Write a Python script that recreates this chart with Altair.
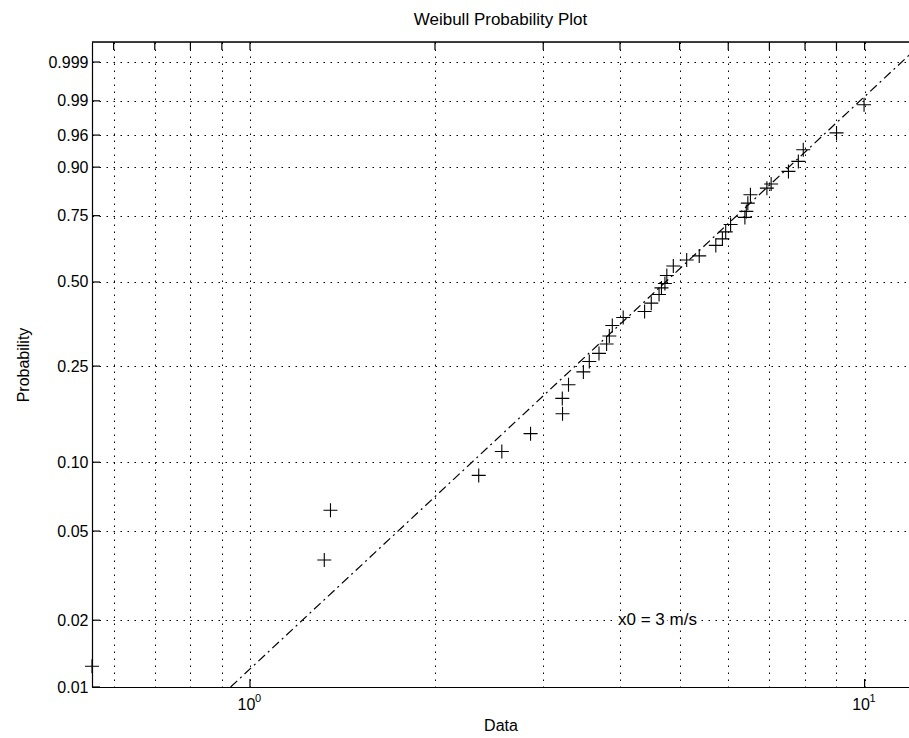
import math
import altair as alt
import pandas as pd

# ---------------- data ----------------
title_text = "Weibull Probability Plot"
x_title = "Data"
y_title = "Probability"
note_text = "x0 = 3 m/s"

data_x = [0.5533, 1.321, 1.352, 2.356, 2.569, 2.861, 3.225, 3.222, 3.298, 3.487,
          3.565, 3.697, 3.804, 3.843, 3.886, 4.048, 4.386, 4.497, 4.630, 4.672,
          4.733, 4.767, 4.884, 5.135, 5.382, 5.727, 5.870, 5.943, 6.053, 6.386,
          6.420, 6.457, 6.520, 6.935, 7.046, 7.518, 7.802, 7.947, 9.002, 9.98]
data_p = [0.0124, 0.0372, 0.0618, 0.0877, 0.1112, 0.1324, 0.1603, 0.1856, 0.2109, 0.2372,
          0.2607, 0.2800, 0.3042, 0.3258, 0.3558, 0.3801, 0.3992, 0.4263, 0.4559, 0.4787,
          0.4947, 0.5238, 0.5593, 0.5821, 0.5976, 0.6380, 0.6629, 0.6896, 0.7178, 0.7438,
          0.7653, 0.7941, 0.8218, 0.8426, 0.8551, 0.8895, 0.9133, 0.9369, 0.9629, 0.9880]

fit_x = [0.930, 11.81]
fit_p = [0.01, 0.9994]

note_x = [4.0]
note_p = [0.02]

prob_ticks = [0.01, 0.02, 0.05, 0.10, 0.25, 0.50, 0.75, 0.90, 0.96, 0.99, 0.999]
prob_labels = ["0.01", "0.02", "0.05", "0.10", "0.25", "0.50", "0.75", "0.90", "0.96", "0.99", "0.999"]

x_grid = [0.6, 0.7, 0.8, 0.9, 1, 2, 3, 4, 5, 6, 7, 8, 9, 10]
x_major = [1, 10]
x_major_base = ["10", "10"]
x_major_exp = ["0", "1"]

x_domain = [0.5533, 11.81]
p_domain = [0.01, 0.9998]

# ---------------- helpers ----------------
FONT = "Liberation Sans"
W, H = 817, 645


def wz(p):
    return math.log(-math.log(1.0 - p))


z_ticks = [wz(p) for p in prob_ticks]
z_domain = [wz(p_domain[0]), wz(p_domain[1])]

ylab_expr = " : ".join(
    [f"abs(datum.value - ({z:.6f})) < 0.0005 ? '{lab}'" for z, lab in zip(z_ticks, prob_labels)]
) + " : ''"
xlab_expr = " : ".join(
    [f"abs(datum.value - {v}) < 0.001 ? '{lab}'" for v, lab in zip(x_major, x_major_base)]
) + " : ''"

zcalc = "log(-log(1 - datum.p))"

xscale = alt.Scale(type="log", domain=x_domain, nice=False)
yscale = alt.Scale(domain=z_domain, nice=False, zero=False)

x_axis = alt.Axis(
    values=x_grid, labelExpr=xlab_expr, grid=True, gridDash=[1.5, 5.5],
    gridColor="black", gridWidth=1, gridOpacity=1, ticks=False, domain=True,
    domainColor="black", domainWidth=1.2, labelFont=FONT, labelFontSize=16,
    labelColor="black", labelPadding=9, labelOffset=-4, labelFlush=False,
    labelOverlap=False,
    title=x_title, titleFont=FONT, titleFontSize=16, titleFontWeight="normal",
    titleColor="black", titlePadding=5)
y_axis = alt.Axis(
    values=z_ticks, labelExpr=ylab_expr, grid=True, gridDash=[1.5, 5.5],
    gridColor="black", gridWidth=1, gridOpacity=1, ticks=False, domain=True,
    domainColor="black", domainWidth=1.2, labelFont=FONT, labelFontSize=16,
    labelColor="black", labelPadding=4, labelFlush=False, labelOverlap=False,
    title=y_title, titleFont=FONT, titleFontSize=16, titleFontWeight="normal",
    titleColor="black", titlePadding=16)

X = alt.X("x:Q", scale=xscale, axis=x_axis)
Y = alt.Y("z:Q", scale=yscale, axis=y_axis)

pts_df = pd.DataFrame({"x": data_x, "p": data_p})
fit_df = pd.DataFrame({"x": fit_x, "p": fit_p})
note_df = pd.DataFrame({"x": note_x, "p": note_p, "t": [note_text]})
yt_df = pd.DataFrame({"p": prob_ticks})
xg_df = pd.DataFrame({"x": x_grid})
xm_df = pd.DataFrame({"x": x_major, "e": x_major_exp})

points = alt.Chart(pts_df).transform_calculate(z=zcalc).mark_point(
    shape="M-1,0L1,0M0,-1L0,1", size=196, filled=False, stroke="black",
    strokeWidth=1.1, opacity=1
).encode(x=X, y=Y)

fit = alt.Chart(fit_df).transform_calculate(z=zcalc).mark_line(
    color="black", strokeWidth=1.2, strokeDash=[9, 4, 2, 4], clip=True
).encode(x=X, y=Y)

note_halo = alt.Chart(note_df).transform_calculate(z=zcalc).mark_text(
    align="left", baseline="middle", font=FONT, fontSize=17, color="white",
    stroke="white", strokeWidth=6, dx=-2
).encode(x=X, y=Y, text="t:N")

note = alt.Chart(note_df).transform_calculate(z=zcalc).mark_text(
    align="left", baseline="middle", font=FONT, fontSize=17, color="black", dx=-2
).encode(x=X, y=Y, text="t:N")

exps = alt.Chart(xm_df).mark_text(
    align="left", baseline="top", font=FONT, fontSize=11, color="black", dx=5
).encode(x=X, y=alt.value(H + 6), text="e:N")

left_ticks = alt.Chart(yt_df).transform_calculate(z=zcalc).mark_rule(
    color="black", strokeWidth=1.2
).encode(y=Y, x=alt.value(0), x2=alt.value(8))

top_ticks = alt.Chart(xg_df).mark_rule(color="black", strokeWidth=1.2).encode(
    x=X, y=alt.value(0), y2=alt.value(8))

bottom_ticks = alt.Chart(xm_df).mark_rule(color="black", strokeWidth=1.2).encode(
    x=X, y=alt.value(H), y2=alt.value(H - 8))

top_border = alt.Chart(xm_df).mark_rule(color="black", strokeWidth=1.2).encode(
    x=alt.value(0), x2=alt.value(W), y=alt.value(0))

chart = alt.layer(
    points, fit, note_halo, note, exps, left_ticks, top_ticks, bottom_ticks, top_border
).properties(
    width=W, height=H,
    title=alt.TitleParams(title_text, font=FONT, fontSize=17, fontWeight="normal",
                          color="black", anchor="middle", offset=12),
    autosize=alt.AutoSizeParams(type="none"),
    padding={"left": 92, "top": 42, "right": 0, "bottom": 51},
).configure_view(stroke=None).configure(background="white")

chart.save("out.html", embed_options={"renderer": "svg", "actions": False})
